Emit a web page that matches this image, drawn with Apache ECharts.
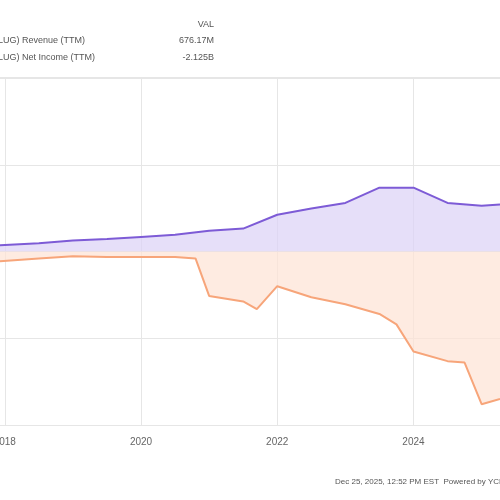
<!DOCTYPE html><html><head><meta charset="utf-8">
<script src="https://cdn.jsdelivr.net/npm/echarts@6/dist/echarts.min.js"></script>
<style>body{margin:0}#c{width:500px;height:500px}</style></head><body><div id="c"></div>
<script>
const revenue=[[2017.93,0.09],[2018.5,0.12],[2019,0.16],[2019.5,0.18],[2020,0.21],[2020.5,0.24],[2021,0.3],[2021.5,0.33],[2022,0.53],[2022.5,0.62],[2023,0.7],[2023.5,0.92],[2024,0.92],[2024.5,0.7],[2025,0.66],[2025.27,0.676]];
const netIncome=[[2017.93,-0.14],[2018.5,-0.1],[2019,-0.07],[2019.5,-0.08],[2020,-0.08],[2020.5,-0.08],[2020.8,-0.1],[2021,-0.64],[2021.5,-0.72],[2021.7,-0.83],[2022,-0.5],[2022.5,-0.66],[2023,-0.76],[2023.5,-0.9],[2023.75,-1.05],[2024,-1.44],[2024.5,-1.58],[2024.75,-1.6],[2025,-2.2],[2025.27,-2.125]];
const years=[2018,2020,2022,2024];
const c=echarts.init(document.getElementById('c'));
c.setOption({animation:false,
grid:{left:0,right:0,top:78,bottom:75},
xAxis:{type:'value',min:2017.93,max:2025.27,axisLine:{show:false},axisTick:{show:false},axisLabel:{show:false},splitLine:{show:false}},
yAxis:{type:'value',min:-2.5,max:2.5,interval:1.25,axisLabel:{show:false},axisLine:{show:false},axisTick:{show:false},splitLine:{lineStyle:{color:'#e6e6e6'}}},
series:[
{type:'line',data:[],markLine:{silent:true,symbol:'none',z:1,lineStyle:{color:'#e6e6e6',type:'solid',width:1},
 label:{position:'start',distance:12,color:'#666',fontSize:10,formatter:p=>String(p.value)},
 data:years.map(y=>({xAxis:y}))},z:1},
{type:'line',data:revenue,symbol:'none',lineStyle:{color:'#7d5bd6',width:2},areaStyle:{color:'#dcd2f6'},z:3},
{type:'line',data:netIncome,symbol:'none',lineStyle:{color:'#f7a57a',width:2},areaStyle:{color:'#fde3d4'},z:3}
],
graphic:[
{type:'line',shape:{x1:0,y1:78,x2:500,y2:78},style:{stroke:'#ccc',lineWidth:1}},
{type:'text',right:286,top:20,style:{text:'VAL',fill:'#555',font:'9px sans-serif'}},
{type:'text',left:-8,top:36,style:{text:'PLUG) Revenue (TTM)',fill:'#555',font:'9px sans-serif'}},
{type:'text',left:-8,top:53,style:{text:'PLUG) Net Income (TTM)',fill:'#555',font:'9px sans-serif'}},
{type:'text',right:286,top:36,style:{text:'676.17M',fill:'#555',font:'9px sans-serif'}},
{type:'text',right:286,top:53,style:{text:'-2.125B',fill:'#555',font:'9px sans-serif'}},
{type:'text',left:335,top:478,style:{text:'Dec 25, 2025, 12:52 PM EST  Powered by YCHARTS',fill:'#555',font:'8px sans-serif'}}
]});
</script></body></html>
